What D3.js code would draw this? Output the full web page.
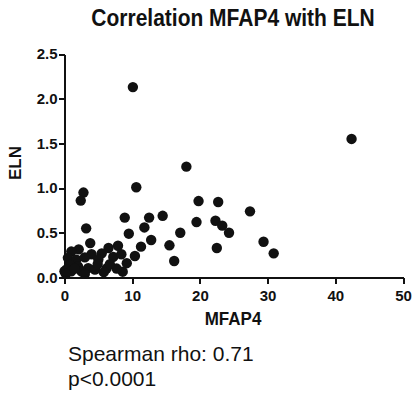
<!DOCTYPE html>
<meta charset="utf-8">
<title>Correlation MFAP4 with ELN</title>
<style>
  body { margin: 0; background: #fff; }
  svg text { font-family: "Liberation Sans", Arial, sans-serif; fill: #111; }
  .axis path, .axis line { stroke: #111; stroke-width: 2; shape-rendering: crispEdges; }
  .axis text { font-size: 15px; font-weight: bold; }
</style>
<body>
<script src="https://cdn.jsdelivr.net/npm/d3@7"></script>
<script>
// MFAP4 (x) vs ELN (y)
var mfap4 = [10.1, 42.4, 18.0, 10.6, 2.8, 2.4, 19.8, 22.7, 27.4, 14.5,
             12.5, 8.9, 22.3, 19.5, 23.3, 11.8, 3.2, 24.3, 17.1, 9.5,
             12.8, 29.4, 15.5, 11.3, 22.5, 30.9, 16.2, 10.4, 9.2, 8.6,
             3.8, 7.9, 6.5, 2.1, 1.0, 4.0, 5.5, 0.5, 1.75, 3.0,
             5.0, 7.2, 0.8, 2.0, 3.5, 0.0, 0.3, 1.0, 2.5, 4.5,
             6.2, 7.7, 4.9, 6.7, 8.4, 0.2, 1.5, 3.0, 5.8];
var eln   = [2.13, 1.55, 1.24, 1.01, 0.95, 0.86, 0.855, 0.845, 0.74, 0.69,
             0.67, 0.67, 0.635, 0.62, 0.58, 0.56, 0.55, 0.50, 0.50, 0.49,
             0.42, 0.40, 0.36, 0.345, 0.33, 0.27, 0.185, 0.24, 0.16, 0.065,
             0.385, 0.355, 0.33, 0.315, 0.29, 0.26, 0.27, 0.22, 0.2, 0.225,
             0.2, 0.23, 0.14, 0.125, 0.105, 0.07, 0.09, 0.07, 0.07, 0.09,
             0.10, 0.10, 0.15, 0.15, 0.26, 0.04, 0.10, 0.04, 0.06];
var xTicks = [0, 10, 20, 30, 40, 50];
var yTicks = [0.0, 0.5, 1.0, 1.5, 2.0, 2.5];

var width = 412, height = 394;
var x = d3.scaleLinear().domain([0, 50]).range([64.5, 403]);
var y = d3.scaleLinear().domain([0, 2.5]).range([277.5, 54]);

var svg = d3.select("body").append("svg")
    .attr("width", width)
    .attr("height", height);

// text in the source is a little stretched vertically
svg.append("text")
    .attr("transform", "translate(233,26) scale(1,1.15)")
    .attr("text-anchor", "middle")
    .style("font-size", "21px").style("font-weight", "bold")
    .text("Correlation MFAP4 with ELN");

svg.append("g")
    .attr("class", "x axis")
    .attr("transform", "translate(0," + y(0) + ")")
    .call(d3.axisBottom(x).tickValues(xTicks).tickSize(6).tickSizeOuter(0).tickPadding(7).tickFormat(d3.format("d")));

svg.append("g")
    .attr("class", "y axis")
    .attr("transform", "translate(" + x(0) + ",0)")
    .call(d3.axisLeft(y).tickValues(yTicks).tickSize(6).tickSizeOuter(0).tickPadding(1).tickFormat(d3.format(".1f")));

svg.append("text")
    .attr("transform", "translate(233,325) scale(1,1.1)")
    .attr("text-anchor", "middle")
    .style("font-size", "17px").style("font-weight", "bold")
    .text("MFAP4");

svg.append("text")
    .attr("transform", "translate(21,163) rotate(-90)")
    .attr("text-anchor", "middle")
    .style("font-size", "17px").style("font-weight", "bold")
    .text("ELN");

svg.append("g")
    .selectAll("circle")
    .data(d3.range(mfap4.length))
    .join("circle")
    .attr("cx", function(i) { return x(mfap4[i]); })
    .attr("cy", function(i) { return y(eln[i]); })
    .attr("r", 5.2)
    .attr("fill", "#111");

svg.append("text")
    .attr("x", 68).attr("y", 361)
    .style("font-size", "21px")
    .text("Spearman rho: 0.71");

svg.append("text")
    .attr("x", 68).attr("y", 385.5)
    .style("font-size", "21px")
    .text("p<0.0001");
</script>
</body>
